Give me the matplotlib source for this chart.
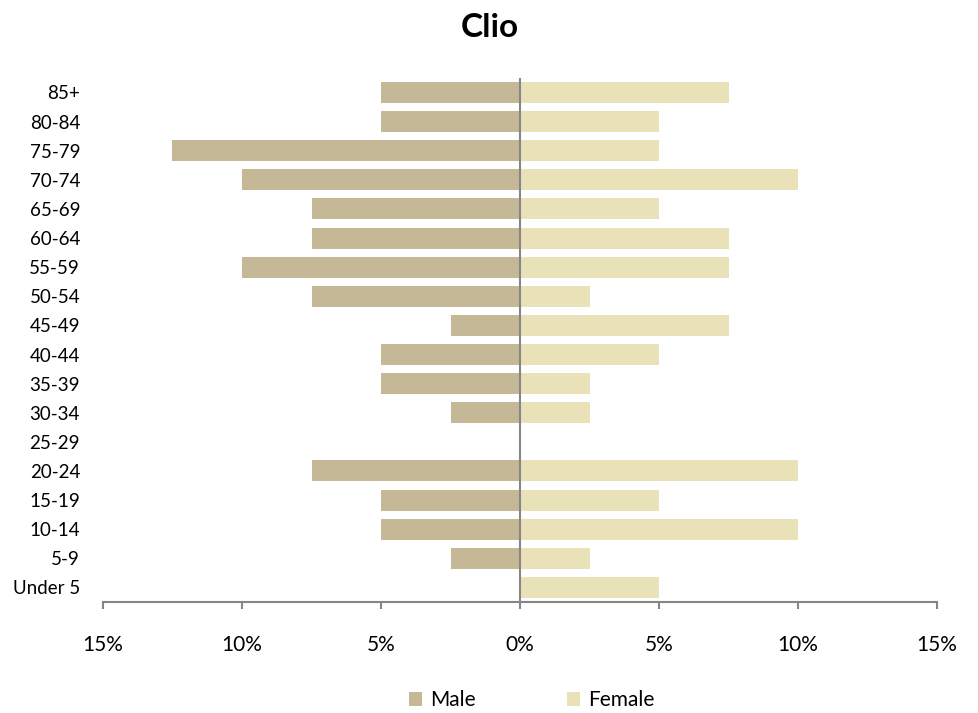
import matplotlib.pyplot as plt
import numpy as np
from matplotlib.patches import Patch
from matplotlib.ticker import FuncFormatter

plt.rcParams['font.family'] = ['Lato', 'DejaVu Sans']

age_groups = ['Under 5', '5-9', '10-14', '15-19', '20-24', '25-29', '30-34', '35-39',
              '40-44', '45-49', '50-54', '55-59', '60-64', '65-69', '70-74', '75-79',
              '80-84', '85+']
male_pct = [0, 2.5, 5, 5, 7.5, 0, 2.5, 5, 5, 2.5, 7.5, 10, 7.5, 7.5, 10, 12.5, 5, 5]
female_pct = [5, 2.5, 10, 5, 10, 0, 2.5, 2.5, 5, 7.5, 2.5, 7.5, 7.5, 5, 10, 5, 5, 7.5]
x_ticks = [-15, -10, -5, 0, 5, 10, 15]

male_color = '#C4B896'
female_color = '#E9E2B8'
axis_color = '#868686'

fig = plt.figure(figsize=(9.79, 7.13), dpi=100)
ax = fig.add_axes([0.1052, 0.1557, 0.852, 0.735])

y = np.arange(len(age_groups))
ax.barh(y, -np.array(male_pct), height=0.72, color=male_color, label='Male')
ax.barh(y, female_pct, height=0.72, color=female_color, label='Female')

ax.set_xlim(-15, 15)
ax.set_ylim(-0.5, len(age_groups) - 0.5)
ax.set_xticks(x_ticks)
ax.xaxis.set_major_formatter(FuncFormatter(lambda v, p: f"{abs(v):.0f}%"))
ax.set_yticks(y)
ax.set_yticklabels(age_groups)

for s in ['top', 'right', 'left']:
    ax.spines[s].set_visible(False)
ax.spines['bottom'].set_color(axis_color)
ax.spines['bottom'].set_linewidth(1.5)
ax.axvline(0, color=axis_color, linewidth=1.5)

ax.tick_params(axis='x', direction='out', length=5, width=1.5, color=axis_color,
               labelsize=15, pad=19)
ax.tick_params(axis='y', length=0, labelsize=13.5, pad=16.5)

fig.text(0.5, 1 - 37 / 713, 'Clio', ha='center', va='baseline', fontsize=24,
         fontweight='bold')

handles = [Patch(facecolor=male_color, label='Male'),
           Patch(facecolor=female_color, label='Female')]
fig.legend(handles=handles, loc='center', bbox_to_anchor=(0.543, 0.018), ncol=2,
           frameon=False, fontsize=15, handlelength=0.63, handleheight=0.63,
           columnspacing=4.4, handletextpad=0.38, borderpad=0)

fig.savefig('out.png', dpi=100)
